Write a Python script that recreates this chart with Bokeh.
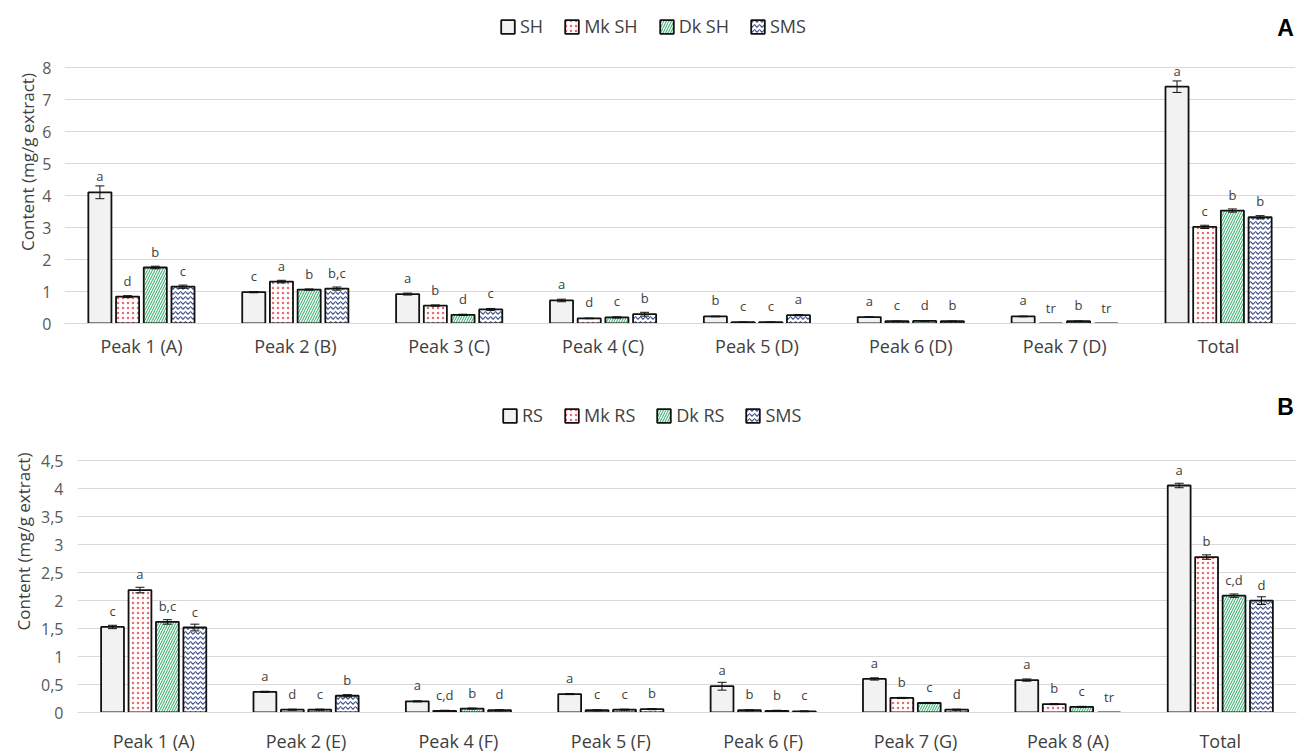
from bokeh.plotting import figure
from bokeh.models import (ColumnDataSource, Whisker, TeeHead, Legend, LegendItem, Label,
                          FixedTicker, CustomJSTickFormatter, Range1d)
from bokeh.layouts import column
from bokeh.embed import file_html
from bokeh.resources import INLINE
from bokeh.core.properties import value

# ---------------- Panel A: SH samples ----------------
peaks_a = ["Peak 1 (A)", "Peak 2 (B)", "Peak 3 (C)", "Peak 4 (C)",
           "Peak 5 (D)", "Peak 6 (D)", "Peak 7 (D)", "Total"]
names_a = ["SH", "Mk SH", "Dk SH", "SMS"]
sh = [4.10, 0.98, 0.92, 0.72, 0.22, 0.20, 0.22, 7.40]
mk_sh = [0.84, 1.31, 0.56, 0.16, 0.04, 0.07, 0.00, 3.02]
dk_sh = [1.75, 1.06, 0.27, 0.19, 0.04, 0.08, 0.07, 3.53]
sms_a = [1.15, 1.09, 0.44, 0.29, 0.26, 0.07, 0.00, 3.32]
sh_err = [0.20, 0.02, 0.03, 0.04, 0.01, 0.01, 0.01, 0.18]
mk_sh_err = [0.03, 0.04, 0.02, 0.01, 0.01, 0.01, 0.00, 0.05]
dk_sh_err = [0.04, 0.02, 0.02, 0.02, 0.01, 0.01, 0.01, 0.05]
sms_a_err = [0.05, 0.05, 0.03, 0.06, 0.02, 0.01, 0.00, 0.05]
sh_let = ["a", "c", "a", "a", "b", "a", "a", "a"]
mk_sh_let = ["d", "a", "b", "d", "c", "c", "tr", "c"]
dk_sh_let = ["b", "b", "d", "c", "c", "d", "b", "b"]
sms_a_let = ["c", "b,c", "c", "b", "a", "b", "tr", "b"]
yticks_a = [0, 1, 2, 3, 4, 5, 6, 7, 8]

# ---------------- Panel B: RS samples ----------------
peaks_b = ["Peak 1 (A)", "Peak 2 (E)", "Peak 4 (F)", "Peak 5 (F)",
           "Peak 6 (F)", "Peak 7 (G)", "Peak 8 (A)", "Total"]
names_b = ["RS", "Mk RS", "Dk RS", "SMS"]
rs = [1.53, 0.37, 0.20, 0.33, 0.47, 0.60, 0.58, 4.06]
mk_rs = [2.19, 0.05, 0.03, 0.04, 0.04, 0.26, 0.15, 2.78]
dk_rs = [1.62, 0.05, 0.07, 0.05, 0.03, 0.17, 0.10, 2.09]
sms_b = [1.52, 0.30, 0.04, 0.06, 0.02, 0.05, 0.00, 2.00]
rs_err = [0.03, 0.01, 0.01, 0.01, 0.07, 0.02, 0.02, 0.04]
mk_rs_err = [0.05, 0.01, 0.01, 0.01, 0.01, 0.01, 0.01, 0.04]
dk_rs_err = [0.04, 0.01, 0.01, 0.01, 0.01, 0.01, 0.01, 0.03]
sms_b_err = [0.06, 0.02, 0.01, 0.01, 0.01, 0.01, 0.00, 0.07]
rs_let = ["c", "a", "a", "a", "a", "a", "a", "a"]
mk_rs_let = ["a", "d", "c,d", "c", "b", "b", "b", "b"]
dk_rs_let = ["b,c", "c", "b", "c", "b", "c", "c", "c,d"]
sms_b_let = ["c", "b", "d", "b", "c", "d", "tr", "d"]
yticks_b = [0, 0.5, 1, 1.5, 2, 2.5, 3, 3.5, 4, 4.5]

FONT = "Open Sans"
GRID = "#d9d9d9"
OFFSETS = [-0.27, -0.09, 0.09, 0.27]
BAR_W = 0.15

STYLES = [
    dict(fill_color="#f2f2f2"),
    dict(fill_color="#ffffff", hatch_pattern="dot", hatch_color="#ea6a70",
         hatch_scale=5, hatch_weight=1.0),
    dict(fill_color="#ffffff", hatch_pattern="right_diagonal_line", hatch_color="#45b476",
         hatch_scale=5, hatch_weight=1.1),
    dict(fill_color="#ffffff", hatch_pattern="horizontal_wave", hatch_color="#44548e",
         hatch_scale=5, hatch_weight=1.2),
]


def make_panel(cats, names, vals, errs, lets, ticks, frame_h, px_per_unit, bottom,
               left, right, leg_x, leg_y, tag_x, tag_y, tag, comma,
               x_standoff, y_standoff, label_standoff):
    # the frame reaches the top of the figure so the legend and panel tag sit inside it;
    # grid lines stop at the last tick
    p = figure(width=1301, height=frame_h + bottom,
               x_range=Range1d(-0.5, len(cats) - 0.5),
               y_range=Range1d(0, frame_h / px_per_unit),
               output_backend="svg", toolbar_location=None,
               min_border_top=0, min_border_bottom=bottom,
               min_border_left=left, min_border_right=right)
    p.frame_align = False
    p.outline_line_color = None
    p.background_fill_color = "white"
    p.border_fill_color = "white"

    items = []
    for k in range(4):
        xs = [i + OFFSETS[k] for i in range(len(cats))]
        src = ColumnDataSource(dict(x=xs, top=vals[k]))
        r = p.vbar(x="x", top="top", width=BAR_W, source=src,
                   line_color="#111111", line_width=1.8, **STYLES[k])
        items.append(LegendItem(label=names[k], renderers=[r]))

        keep = [i for i in range(len(cats)) if errs[k][i] > 0]
        esrc = ColumnDataSource(dict(
            x=[xs[i] for i in keep],
            upper=[vals[k][i] + errs[k][i] for i in keep],
            lower=[vals[k][i] - errs[k][i] for i in keep]))
        w = Whisker(source=esrc, base="x", upper="upper", lower="lower",
                    line_color="#111111", line_width=1, level="overlay",
                    upper_head=TeeHead(size=9, line_color="#111111", line_width=1),
                    lower_head=TeeHead(size=9, line_color="#111111", line_width=1))
        p.add_layout(w)

        lsrc = ColumnDataSource(dict(x=xs, y=vals[k], t=lets[k]))
        p.text(x="x", y="y", text="t", source=lsrc, text_align="center",
               text_baseline="middle", y_offset=-16,
               text_font=value(FONT), text_font_size="13px", text_color="#404040")

    # tuple location gives the legend's lower-left corner inside the frame
    legend = Legend(items=items, orientation="horizontal",
                    location=(leg_x, leg_y),
                    label_text_font=FONT, label_text_font_size="18px",
                    label_text_color="#404040", glyph_width=17, glyph_height=17,
                    label_standoff=4, spacing=20, padding=0, margin=0,
                    border_line_alpha=0, background_fill_alpha=0)
    p.add_layout(legend, "center")

    p.add_layout(Label(x=tag_x, y=tag_y, x_units="screen", y_units="screen",
                       text=tag, text_font="Liberation Sans", text_font_size="23px",
                       text_font_style="bold", text_color="#000000",
                       text_align="center", text_baseline="middle"))

    p.xaxis.ticker = FixedTicker(ticks=list(range(len(cats))))
    p.xaxis.major_label_overrides = {i: c for i, c in enumerate(cats)}
    p.xaxis.major_label_text_font = FONT
    p.xaxis.major_label_text_font_size = "18px"
    p.xaxis.major_label_text_color = "#404040"
    p.xaxis.major_label_standoff = x_standoff
    p.xaxis.axis_line_color = GRID
    p.xaxis.major_tick_out = 0
    p.xaxis.major_tick_in = 0
    p.xaxis.major_tick_line_color = None
    p.xaxis.minor_tick_line_color = None

    p.yaxis.ticker = FixedTicker(ticks=ticks)
    if comma:
        p.yaxis.formatter = CustomJSTickFormatter(code="return tick.toString().replace('.', ',');")
    p.yaxis.major_label_text_font = FONT
    p.yaxis.major_label_text_font_size = "16px"
    p.yaxis.major_label_text_color = "#595959"
    p.yaxis.major_label_standoff = y_standoff
    p.yaxis.axis_line_color = None
    p.yaxis.major_tick_out = 0
    p.yaxis.major_tick_in = 0
    p.yaxis.major_tick_line_color = None
    p.yaxis.minor_tick_line_color = None
    p.yaxis.axis_label = "Content (mg/g extract)"
    p.yaxis.axis_label_text_font = FONT
    p.yaxis.axis_label_text_font_size = "17px"
    p.yaxis.axis_label_text_font_style = "normal"
    p.yaxis.axis_label_text_color = "#404040"
    p.yaxis.axis_label_standoff = label_standoff

    p.xgrid.grid_line_color = None
    p.ygrid.grid_line_color = GRID
    p.ygrid.grid_line_width = 1
    return p


pa = make_panel(peaks_a, names_a,
                [sh, mk_sh, dk_sh, sms_a],
                [sh_err, mk_sh_err, dk_sh_err, sms_a_err],
                [sh_let, mk_sh_let, dk_sh_let, sms_a_let],
                yticks_a, frame_h=323, px_per_unit=32.0, bottom=47,
                left=64, right=6, leg_x=435, leg_y=285, tag_x=1221, tag_y=296,
                tag="A", comma=False, x_standoff=10, y_standoff=13, label_standoff=0)
pb = make_panel(peaks_b, names_b,
                [rs, mk_rs, dk_rs, sms_b],
                [rs_err, mk_rs_err, dk_rs_err, sms_b_err],
                [rs_let, mk_rs_let, dk_rs_let, sms_b_let],
                yticks_b, frame_h=348, px_per_unit=256 / 4.5, bottom=37,
                left=77, right=5, leg_x=424, leg_y=285, tag_x=1208, tag_y=306,
                tag="B", comma=True, x_standoff=16, y_standoff=14, label_standoff=3)

layout = column(pa, pb, spacing=0)
open("out.html", "w").write(file_html(layout, INLINE))
